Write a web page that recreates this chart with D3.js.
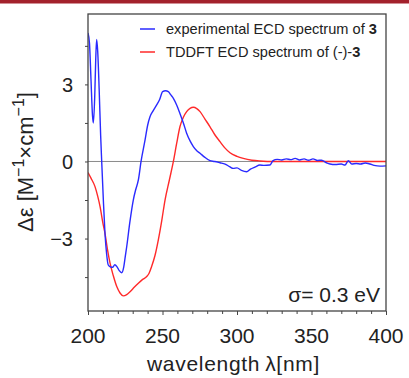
<!DOCTYPE html>
<html><head><meta charset="utf-8">
<script src="https://cdn.jsdelivr.net/npm/d3@7"></script>
<style>body{margin:0;background:#fff}svg{display:block}</style>
</head><body>
<svg id="c" width="409" height="378"></svg>
<script>
const expWavelength = [200,201,202,203,203.6,204.5,205.2,205.8,206.5,207.5,208.5,209.2,210.3,211.4,212.5,213.6,215,216.5,218,219.5,221,222.6,224,225,226,228,230.4,232,233.8,235.6,238.3,240,241.6,243.5,246.1,248,250.1,252,253.9,255.5,257.3,259.5,261.7,264,266.2,268.5,270.7,273,275.2,278,281.9,285,288.6,292,295,297.5,300,303,306.5,309,312,315.4,318,322,324.2,327,330,333,336,339,342,345,348,351,354,356.8,360,362.4,366,370,372.5,374.7,377,380,383,386,389.3,392,396,400];
const expValues = [5.0,4.6,3.2,1.8,1.5,2.5,4.0,4.75,4.3,2.8,1.0,0,-1.5,-2.8,-3.6,-4.03,-4.1,-4.12,-4.02,-4.1,-4.25,-4.33,-4.1,-3.7,-3.31,-2.4,-1.5,-1.1,-0.72,0,0.84,1.4,1.74,1.95,2.2,2.4,2.72,2.75,2.72,2.6,2.46,2.2,1.87,1.5,1.1,0.8,0.58,0.42,0.32,0.18,0.03,0.0,-0.05,-0.1,-0.2,-0.27,-0.25,-0.35,-0.4,-0.3,-0.22,-0.14,-0.15,-0.14,0.03,0.08,0.06,0.1,0.07,0.12,0.06,0.1,0.05,0.1,0.04,0.05,-0.05,-0.1,-0.12,-0.1,-0.14,0.03,-0.1,-0.08,-0.1,-0.06,-0.1,-0.15,-0.18,-0.17];
const calcWavelength = [200,202,204.7,206.5,208.1,210,211.4,213,214.8,217,219.3,221.5,223.7,226,228.2,231,233.8,236.5,239.4,241,242.7,245,247.2,249.5,251.7,254.5,257.3,259.5,261.7,264,266.2,268.5,270.7,273,275.2,278.5,281.9,285,288.6,292,295.3,300,304.2,310,315.4,325,400];
const calcValues = [-0.43,-0.65,-0.98,-1.35,-1.76,-2.4,-2.8,-3.4,-3.96,-4.45,-4.87,-5.12,-5.23,-5.18,-5.07,-4.9,-4.74,-4.6,-4.48,-4.35,-4.09,-3.65,-3.05,-2.3,-1.5,-0.75,0,0.7,1.35,1.72,1.94,2.07,2.11,2.06,1.94,1.65,1.35,1.05,0.77,0.52,0.34,0.2,0.12,0.05,0.02,0,0];
const xTickLabels = [200,250,300,350,400];
const yTickLabels = [-3,0,3];
const legendLabels = [["experimental ECD spectrum of ","3"],["TDDFT ECD spectrum of (-)-","3"]];

const svg = d3.select("#c");
const L=88,R=386,T=14,B=311;
const x = d3.scaleLinear().domain([200,400]).range([L,R]);
const y = d3.scaleLinear().domain([-5.82,5.74]).range([B,T]);
const font = "'Liberation Sans', Arial, sans-serif";

// top banner
svg.append("rect").attr("x",0).attr("y",0).attr("width",409).attr("height",3.5).attr("fill","#a3212c");

// zero line
svg.append("line").attr("x1",L).attr("x2",R).attr("y1",y(0)).attr("y2",y(0)).attr("stroke","#8a8a8a").attr("stroke-width",1);

svg.append("clipPath").attr("id","pc").append("rect").attr("x",L).attr("y",T).attr("width",R-L).attr("height",B-T);
const line = d3.line().x(d=>x(d[0])).y(d=>y(d[1])).curve(d3.curveMonotoneX);
const g = svg.append("g").attr("clip-path","url(#pc)");
g.append("path").datum(calcWavelength.map((w,i)=>[w,calcValues[i]])).attr("d",line).attr("fill","none").attr("stroke","#ff2a2a").attr("stroke-width",1.4);
g.append("path").datum(expWavelength.map((w,i)=>[w,expValues[i]])).attr("d",line).attr("fill","none").attr("stroke","#2a2aff").attr("stroke-width",1.4);

// frame
svg.append("rect").attr("x",L).attr("y",T).attr("width",R-L).attr("height",B-T).attr("fill","none").attr("stroke","#444").attr("stroke-width",1.3);

// x axis ticks
const xa = svg.append("g").attr("transform",`translate(0,${B})`);
xa.call(d3.axisBottom(x).tickValues(d3.range(200,401,10)).tickSize(3).tickFormat(""));
xa.select(".domain").remove();
xa.selectAll("line").attr("stroke","#444");
xa.selectAll(".tick").filter(d=>d%50===0).select("line").attr("y2",4);
svg.selectAll(".xl").data(xTickLabels).join("text").attr("x",d=>x(d)).attr("y",343).attr("text-anchor","middle")
  .attr("font-family",font).attr("font-size",21).attr("fill","#222").text(d=>d);

// y axis ticks
const ya = svg.append("g").attr("transform",`translate(${L},0)`);
ya.call(d3.axisLeft(y).tickValues([-4.5,-3,-1.5,0,1.5,3,4.5]).tickSize(3).tickFormat(""));
ya.select(".domain").remove();
ya.selectAll("line").attr("stroke","#444");
svg.selectAll(".yl").data(yTickLabels).join("text").attr("x",73).attr("y",d=>y(d)+7.5).attr("text-anchor","end")
  .attr("font-family",font).attr("font-size",20).attr("fill","#222").text(d=>d<0?"\u2212"+Math.abs(d):d);

// axis titles
svg.append("text").attr("x",147).attr("y",371).attr("font-family",font).attr("font-size",21).attr("letter-spacing",0.7).attr("fill","#222")
  .text("wavelength\u2009\u03bb[nm]");
const yt = svg.append("text").attr("transform","translate(33,162) rotate(-90)").attr("text-anchor","middle").attr("font-family",font).attr("font-size",22).attr("fill","#222");
yt.append("tspan").text("\u0394\u03b5 [M");
yt.append("tspan").attr("font-size",16).attr("dy",-9).text("\u22121");
yt.append("tspan").attr("dy",9).text("\u00d7cm");
yt.append("tspan").attr("font-size",16).attr("dy",-9).text("\u22121");
yt.append("tspan").attr("dy",9).text("]");

// legend
const colors=["#2a2aff","#ff2a2a"];
legendLabels.forEach((lab,i)=>{
  const yy = 29 + i*23;
  svg.append("line").attr("x1",140).attr("x2",155).attr("y1",yy).attr("y2",yy).attr("stroke",colors[i]).attr("stroke-width",1.5);
  const t = svg.append("text").attr("x",166).attr("y",yy+5).attr("font-family",font).attr("font-size",14.6).attr("fill","#222");
  t.append("tspan").text(lab[0]);
  t.append("tspan").attr("font-weight","bold").text(lab[1]);
});

// sigma annotation
svg.append("text").attr("x",380).attr("y",302).attr("text-anchor","end").attr("font-family",font).attr("font-size",21).attr("fill","#222").text("\u03c3= 0.3 eV");
</script>
</body></html>
